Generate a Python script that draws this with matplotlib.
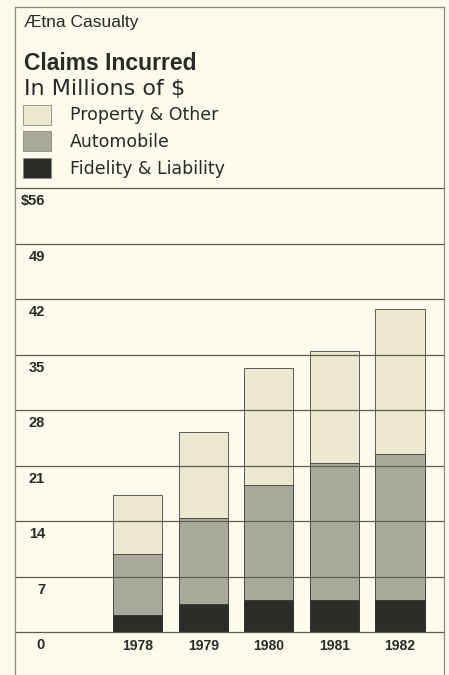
import matplotlib
matplotlib.use('Agg')
import matplotlib.pyplot as plt
from matplotlib.patches import Rectangle
from matplotlib.lines import Line2D

plt.rcParams['font.family'] = ['Liberation Sans', 'DejaVu Sans']

# data (millions of $)
years = ['1978', '1979', '1980', '1981', '1982']
fidelity = [2.1, 3.5, 4.0, 4.1, 4.1]
automobile = [7.7, 10.9, 14.5, 17.2, 18.3]
property_other = [7.5, 10.8, 14.8, 14.2, 18.4]
yticks = [0, 7, 14, 21, 28, 35, 42, 49, 56]
ytick_labels = ['0', '7', '14', '21', '28', '35', '42', '49', '$56']
series_names = ['Property & Other', 'Automobile', 'Fidelity & Liability']

bg = '#fcfbee'
c_prop = '#ece9d0'
c_auto = '#a9a99b'
c_fid = '#2c2c29'
ink = '#2a2a28'
grid_c = '#5e5e50'

W, H = 449, 675
fig = plt.figure(figsize=(W / 100, H / 100), dpi=100, facecolor=bg)

def fx(px):
    return px / W

def fy(py):
    return 1 - py / H

# outer frame
frame_c = '#8a8a80'
fig.add_artist(Line2D([fx(15), fx(444)], [fy(7), fy(7)], color=frame_c, lw=0.9))
fig.add_artist(Line2D([fx(15), fx(15)], [fy(7), 0], color=frame_c, lw=0.9))
fig.add_artist(Line2D([fx(444), fx(444)], [fy(7), 0], color=frame_c, lw=0.9))

# header
fig.text(fx(24), fy(22), 'Ætna Casualty', fontsize=12.5, color=ink, va='center')
fig.text(fx(24), fy(63), 'Claims Incurred', fontsize=16.5, fontweight='bold',
         color=ink, va='center')
fig.text(fx(24), fy(89), 'In Millions of $', fontsize=16, color=ink,
         va='center', family='DejaVu Sans')

# legend
leg_colors = [c_prop, c_auto, c_fid]
leg_y = [105, 131, 158]
leg_text_y = [115, 142, 169]
for name, col, y0, ty in zip(series_names, leg_colors, leg_y, leg_text_y):
    fig.add_artist(Rectangle((fx(23), fy(y0 + 20)), fx(28), 20 / H,
                             facecolor=col, edgecolor='#8a8a80', lw=0.6))
    fig.text(fx(70), fy(ty), name, fontsize=12.5, color=ink, va='center',
             family='DejaVu Sans')

# chart
ax = fig.add_axes([fx(15), 0, fx(444) - fx(15), fy(188)])
ax.set_facecolor(bg)
x = list(range(len(years)))
ax.set_xlim(-1.867, 4.67)
ax.set_ylim(-5.42, 56)

for t in yticks[:-1]:
    ax.axhline(t, color=grid_c, lw=0.9, zorder=3)

width = 0.75
bottom2 = [a + b for a, b in zip(fidelity, automobile)]
ax.bar(x, fidelity, width, color=c_fid, edgecolor='#222', lw=0.6, zorder=2)
ax.bar(x, automobile, width, bottom=fidelity, color=c_auto,
       edgecolor='#333', lw=0.6, zorder=2)
ax.bar(x, property_other, width, bottom=bottom2, color=c_prop,
       edgecolor='#444', lw=0.6, zorder=2)

for t, lab in zip(yticks, ytick_labels):
    ax.text(0.07, t - 0.8, lab, fontsize=10.5, fontweight='bold',
            color=ink, va='top', ha='right',
            transform=ax.get_yaxis_transform())

for xi, yr in zip(x, years):
    ax.text(xi, -0.85, yr, fontsize=10, fontweight='bold', color=ink,
            ha='center', va='top')

ax.set_xticks([])
ax.set_yticks([])
for s in ['left', 'right', 'bottom']:
    ax.spines[s].set_visible(False)
ax.spines['top'].set_color(grid_c)
ax.spines['top'].set_linewidth(0.9)

plt.savefig('out.png', dpi=100, facecolor=bg)
